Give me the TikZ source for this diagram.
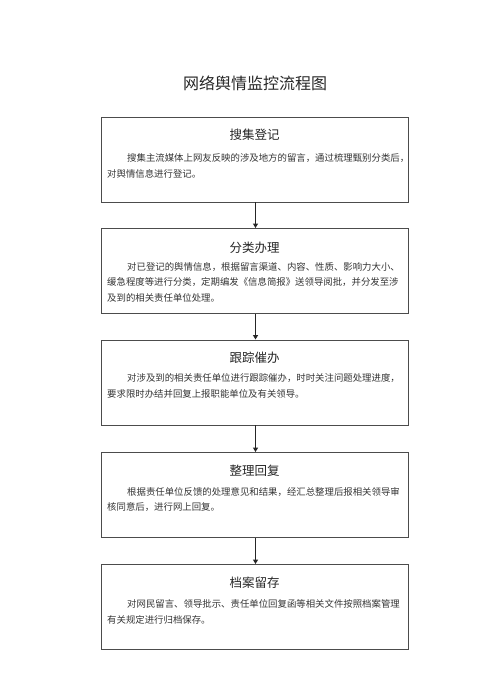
\documentclass[tikz,border=0pt]{standalone}
\usepackage{fontspec}
\newfontfamily\cjk{Noto Sans CJK SC}
\usetikzlibrary{arrows.meta}
\tikzset{
  box/.style={draw=black!70, line width=0.9pt, rectangle, minimum width=307pt, minimum height=85pt, inner sep=0pt},
  boxtitle/.style={font=\cjk\fontsize{12.5}{14}\selectfont, text=black!85, inner sep=0pt},
  bodyline/.style={font=\cjk\fontsize{9.4}{12}\selectfont, text=black!80, inner sep=0pt, anchor=west},
  arr/.style={draw=black!85, line width=1.1pt, -{Triangle[length=4.5pt,width=5pt]}},
}
\begin{document}
\begin{tikzpicture}[x=1pt,y=-1pt]
\useasboundingbox (0,0) rectangle (500,694);
\node[font=\cjk\fontsize{16}{18}\selectfont, text=black!85, inner sep=0pt] (title) at (255,83) {网络舆情监控流程图};

% box 1
\node[box] (b1) at (254.5,159.5) {};
\node[boxtitle] (t1) at (254.5,135) {搜集登记};
\node[bodyline] (l11) at (127,158) {搜集主流媒体上网友反映的涉及地方的留言，通过梳理甄别分类后，};
\node[bodyline] (l12) at (107,173.5) {对舆情信息进行登记。};

% box 2
\node[box] (b2) at (254.5,271) {};
\node[boxtitle] (t2) at (254.5,248) {分类办理};
\node[bodyline] (l21) at (127,267) {对已登记的舆情信息，根据留言渠道、内容、性质、影响力大小、};
\node[bodyline] (l22) at (107,282.5) {缓急程度等进行分类，定期编发《信息简报》送领导阅批，并分发至涉};
\node[bodyline] (l23) at (107,298) {及到的相关责任单位处理。};

% box 3
\node[box] (b3) at (254.5,382.5) {};
\node[boxtitle] (t3) at (254.5,358) {跟踪催办};
\node[bodyline] (l31) at (127,378) {对涉及到的相关责任单位进行跟踪催办，时时关注问题处理进度，};
\node[bodyline] (l32) at (107,393.5) {要求限时办结并回复上报职能单位及有关领导。};

% box 4
\node[box] (b4) at (254.5,495) {};
\node[boxtitle] (t4) at (254.5,471) {整理回复};
\node[bodyline] (l41) at (127,492) {根据责任单位反馈的处理意见和结果，经汇总整理后报相关领导审};
\node[bodyline] (l42) at (107,507.5) {核同意后，进行网上回复。};

% box 5
\node[box] (b5) at (254.5,607) {};
\node[boxtitle] (t5) at (254.5,583) {档案留存};
\node[bodyline] (l51) at (127,604) {对网民留言、领导批示、责任单位回复函等相关文件按照档案管理};
\node[bodyline] (l52) at (107,619.5) {有关规定进行归档保存。};

\draw[arr] (b1.south -| 255.5,0) -- (b2.north -| 255.5,0);
\draw[arr] (b2.south -| 255.5,0) -- (b3.north -| 255.5,0);
\draw[arr] (b3.south -| 255.5,0) -- (b4.north -| 255.5,0);
\draw[arr] (b4.south -| 255.5,0) -- (b5.north -| 255.5,0);
\end{tikzpicture}
\end{document}
